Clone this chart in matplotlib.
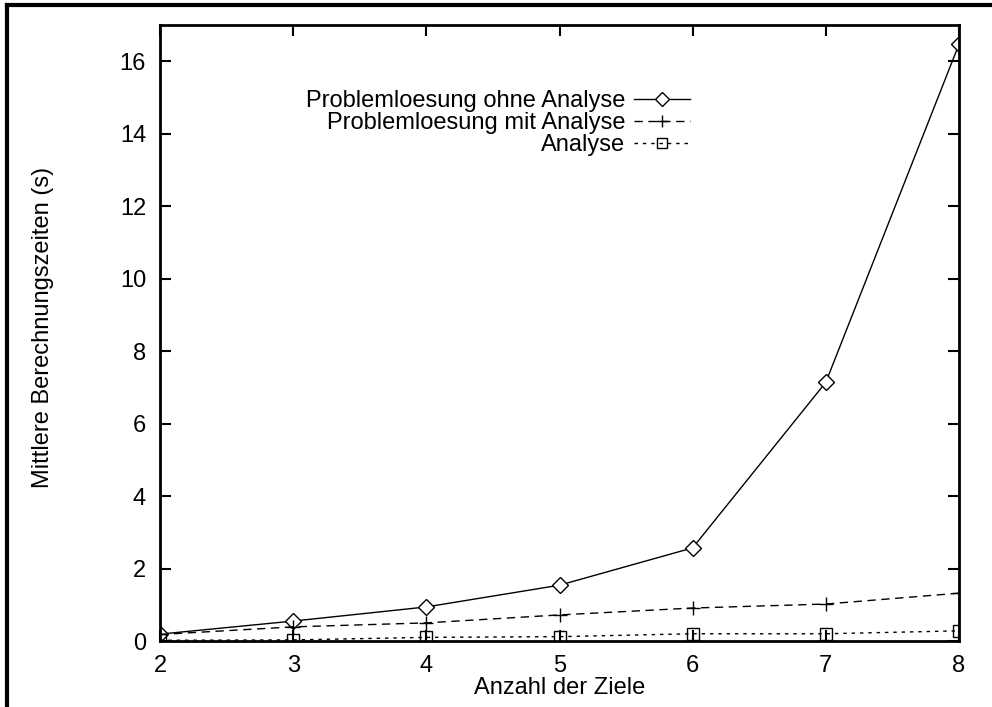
import matplotlib
matplotlib.use("Agg")
import matplotlib.pyplot as plt
from matplotlib.lines import Line2D

#  Data.
ziele = [2, 3, 4, 5, 6, 7, 8]
ohne_analyse = [0.19, 0.55, 0.94, 1.54, 2.57, 7.14, 16.47]
mit_analyse = [0.18, 0.39, 0.50, 0.72, 0.91, 1.02, 1.32]
analyse = [0.02, 0.03, 0.10, 0.12, 0.20, 0.20, 0.28]
labels = ["Problemloesung ohne Analyse", "Problemloesung mit Analyse", "Analyse"]

plt.rcParams["font.family"] = ["Liberation Sans", "DejaVu Sans"]

fig = plt.figure(figsize=(9.92, 7.07), dpi=100)
W, H = 992.0, 707.0
#  Axes box in pixels: left 160, right 959, top 25, bottom 641.
ax = fig.add_axes([160 / W, 1 - 641 / H, (959 - 160) / W, (641 - 25) / H])

ax.plot(ziele, ohne_analyse, color="black", lw=1.0, marker="D", ms=8,
        mfc="white", mec="black", mew=1.0, label=labels[0])
ax.plot(ziele, mit_analyse, color="black", lw=1.0, ls=(0, (6, 4)), marker="+", ms=10,
        mew=1.0, label=labels[1])
ax.plot(ziele, analyse, color="black", lw=1.0, ls=(0, (2.5, 3.5)), marker="s", ms=8.5,
        mfc="none", mec="black", mew=1.0, label=labels[2])

ax.set_xlim(2, 8)
ax.set_ylim(0, 17)
ax.set_xticks(ziele)
ax.set_yticks(range(0, 17, 2))
ax.tick_params(direction="in", length=8, width=1.5, labelsize=17,
               top=True, right=True, pad=10)
for sp in ax.spines.values():
    sp.set_linewidth(2)

ax.set_xlabel("Anzahl der Ziele", fontsize=17)
ax.xaxis.set_label_coords(560 / W, 1 - 677 / H, transform=fig.transFigure)
ax.set_ylabel("Mittlere Berechnungszeiten (s)", fontsize=17)
ax.yaxis.set_label_coords(54 / W, 1 - 327 / H, transform=fig.transFigure)

leg = ax.legend(loc="upper right", bbox_to_anchor=(702 / W, 1 - 78 / H),
                bbox_transform=fig.transFigure, frameon=False, markerfirst=False,
                fontsize=17, handlelength=2.4, handletextpad=0.35,
                labelspacing=0.0, borderpad=0)
for t in leg.get_texts():
    t.set_ha("right")
leg._legend_box.align = "right"
for h, ms in zip(leg.legend_handles, [7, 9, 7.5]):
    h.set_markersize(ms)

#  Outer frame (left and top edges visible).
fig.add_artist(Line2D([7 / W, 7 / W], [0, 1 - 5 / H], color="black", lw=3,
                      transform=fig.transFigure))
fig.add_artist(Line2D([7 / W, 1], [1 - 5 / H, 1 - 5 / H], color="black", lw=3,
                      transform=fig.transFigure))

fig.savefig("out.png", dpi=100)
